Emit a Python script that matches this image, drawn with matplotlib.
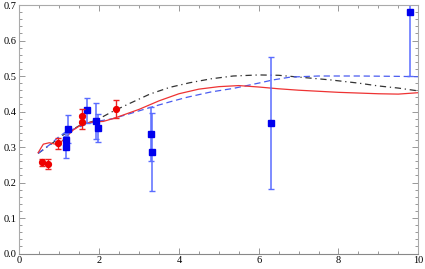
import numpy as np
import matplotlib
matplotlib.use('Agg')
import matplotlib.pyplot as plt
from matplotlib.ticker import MultipleLocator

# red circles (data set 1)
red_x = [0.57, 0.72, 0.97, 1.57, 1.57, 2.42]
red_y = [0.257, 0.252, 0.310, 0.387, 0.370, 0.406]
red_err = [0.010, 0.015, 0.015, 0.020, 0.020, 0.025]

# blue squares (data set 2)
blue_x = [1.16, 1.18, 1.21, 1.69, 1.92, 1.97, 3.29, 3.33, 6.30, 9.79]
blue_y = [0.300, 0.320, 0.350, 0.403, 0.373, 0.353, 0.336, 0.286, 0.368, 0.679]
blue_err = [0.030, 0.020, 0.040, 0.035, 0.050, 0.040, 0.076, 0.109, 0.185, 0.180]

# model curves
red_cx = [0.47, 0.6, 0.75, 0.9, 1.0, 1.1, 1.35, 1.6, 1.85, 2.1, 2.35, 2.6, 3.0, 3.5,
          4.0, 4.5, 5.0, 5.5, 6.0, 6.5, 7.0, 7.5, 8.0, 8.5, 9.0, 9.5, 10.0]
red_cy = [0.284, 0.308, 0.312, 0.308, 0.310, 0.320, 0.348, 0.366, 0.371, 0.372, 0.380,
          0.390, 0.406, 0.430, 0.450, 0.463, 0.470, 0.473, 0.469, 0.464, 0.460, 0.457,
          0.454, 0.452, 0.450, 0.449, 0.453]

black_cx = [0.47, 0.77, 1.1, 1.5, 1.94, 2.3, 2.77, 3.27, 3.77, 4.27, 4.8, 5.36, 6.0,
            6.5, 7.0, 7.8, 8.5, 9.0, 9.5, 10.0]
black_cy = [0.282, 0.306, 0.334, 0.360, 0.376, 0.398, 0.423, 0.449, 0.468, 0.481, 0.492,
            0.500, 0.503, 0.502, 0.497, 0.489, 0.480, 0.472, 0.466, 0.458]

blue_cx = [0.47, 0.8, 1.0, 1.2, 1.4, 1.7, 1.94, 2.35, 2.8, 3.3, 3.8, 4.2, 4.8, 5.36,
           6.0, 6.36, 6.8, 7.5, 8.5, 9.5, 10.0]
blue_cy = [0.282, 0.310, 0.330, 0.345, 0.352, 0.365, 0.372, 0.380, 0.395, 0.412, 0.428,
           0.440, 0.455, 0.465, 0.480, 0.489, 0.497, 0.500, 0.500, 0.499, 0.498]

x_ticks = [0, 2, 4, 6, 8, 10]
y_ticks = [0.0, 0.1, 0.2, 0.3, 0.4, 0.5, 0.6, 0.7]

plt.rcParams['font.family'] = ['Liberation Serif', 'DejaVu Serif']

fig = plt.figure(figsize=(4.25, 2.69), dpi=100)
ax = fig.add_axes([0.0456, 0.0576, 0.9385, 0.9238])

ax.plot(black_cx, black_cy, color='#333333', lw=0.9, ls=(0, (5, 3, 1, 3)))
ax.plot(blue_cx, blue_cy, color='#4a5cf0', lw=0.9, ls=(0, (5, 3)))
ax.plot(red_cx, red_cy, color='#ee3333', lw=0.9)

ax.errorbar(blue_x, blue_y, yerr=blue_err, fmt='none', ecolor='#5a6cff', elinewidth=1.1,
            capsize=2.5, capthick=1.0)
ax.plot(blue_x, blue_y, 's', color='#0000ee', ms=4.2)
ax.errorbar(red_x, red_y, yerr=red_err, fmt='none', ecolor='#ee2222', elinewidth=1.0,
            capsize=2.5, capthick=1.0)
ax.plot(red_x, red_y, 'o', color='#ee0000', ms=4.2)

ax.set_xticks(x_ticks)
ax.set_xticklabels([str(v) for v in x_ticks])
ax.set_yticks(y_ticks)
ax.set_yticklabels(['%.1f' % v for v in y_ticks])
ax.xaxis.set_minor_locator(MultipleLocator(0.5))
ax.yaxis.set_minor_locator(MultipleLocator(0.02))
ax.set_xlim(0, 10)
ax.set_ylim(0, 0.7)

for s in ax.spines.values():
    s.set_color('#aaaaaa')
    s.set_linewidth(0.8)
ax.spines['bottom'].set_color('#888888')
ax.tick_params(which='both', direction='in', top=True, right=True, colors='#888888',
               labelcolor='black', labelsize=7.5, width=0.6, pad=2)
ax.tick_params(which='major', length=4)
ax.tick_params(which='minor', length=2)

fig.savefig('out.png', dpi=100)
